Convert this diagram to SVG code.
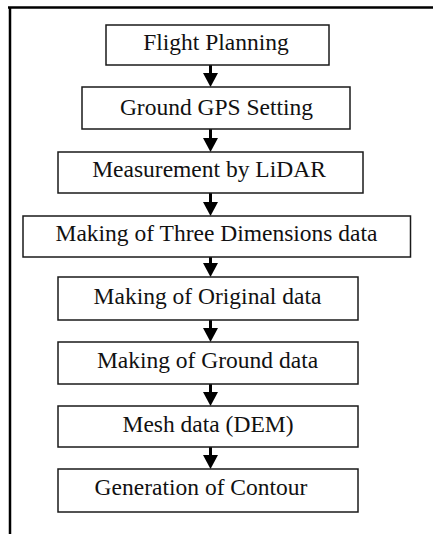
<svg xmlns="http://www.w3.org/2000/svg" width="433" height="534" viewBox="0 0 433 534">
<style>
.box{fill:#fff;stroke:#1a1a1a;stroke-width:1.5}
.lbl{font-family:"Liberation Serif","Times New Roman",serif;font-size:23.5px;fill:#111;text-anchor:middle}
.arr{stroke:#000;stroke-width:3;fill:none}
.frame{stroke:#000;stroke-width:2.5;fill:none}
</style>
<defs>
<marker id="ah" markerUnits="userSpaceOnUse" viewBox="0 -7.5 14 15" refX="0" refY="0" markerWidth="14" markerHeight="15" orient="auto">
<path d="M0,-7.5 L14,0 L0,7.5 Z" fill="#000"/>
</marker>
</defs>
<rect width="433" height="534" fill="#fff"/>
<g id="frame">
<path class="frame" d="M8,7.5 H433 M10,6.5 V534"/>
</g>
<g id="connectors">
<line class="arr" x1="210.5" y1="65" x2="210.5" y2="73" marker-end="url(#ah)"/>
<line class="arr" x1="210.5" y1="129" x2="210.5" y2="138" marker-end="url(#ah)"/>
<line class="arr" x1="210.5" y1="193" x2="210.5" y2="202" marker-end="url(#ah)"/>
<line class="arr" x1="210.5" y1="257" x2="210.5" y2="263" marker-end="url(#ah)"/>
<line class="arr" x1="210.5" y1="320" x2="210.5" y2="328" marker-end="url(#ah)"/>
<line class="arr" x1="210.5" y1="384" x2="210.5" y2="392" marker-end="url(#ah)"/>
<line class="arr" x1="210.5" y1="447" x2="210.5" y2="455" marker-end="url(#ah)"/>
</g>
<g id="n1"><rect class="box" x="106" y="25" width="223" height="40"/><text class="lbl" x="216" y="50">Flight Planning</text></g>
<g id="n2"><rect class="box" x="82" y="87" width="268" height="42"/><text class="lbl" x="216.5" y="115">Ground GPS Setting</text></g>
<g id="n3"><rect class="box" x="58" y="152" width="305" height="41"/><text class="lbl" x="209" y="177">Measurement by LiDAR</text></g>
<g id="n4"><rect class="box" x="23" y="216" width="387.5" height="41"/><text class="lbl" x="216.5" y="241">Making of Three Dimensions data</text></g>
<g id="n5"><rect class="box" x="58" y="277" width="300" height="43"/><text class="lbl" x="207.5" y="304">Making of Original data</text></g>
<g id="n6"><rect class="box" x="58" y="342" width="300" height="42"/><text class="lbl" x="207.5" y="368">Making of Ground data</text></g>
<g id="n7"><rect class="box" x="58" y="406" width="300" height="41"/><text class="lbl" x="208" y="432">Mesh data (DEM)</text></g>
<g id="n8"><rect class="box" x="58" y="469" width="300" height="43"/><text class="lbl" x="201" y="495">Generation of Contour</text></g>
</svg>
